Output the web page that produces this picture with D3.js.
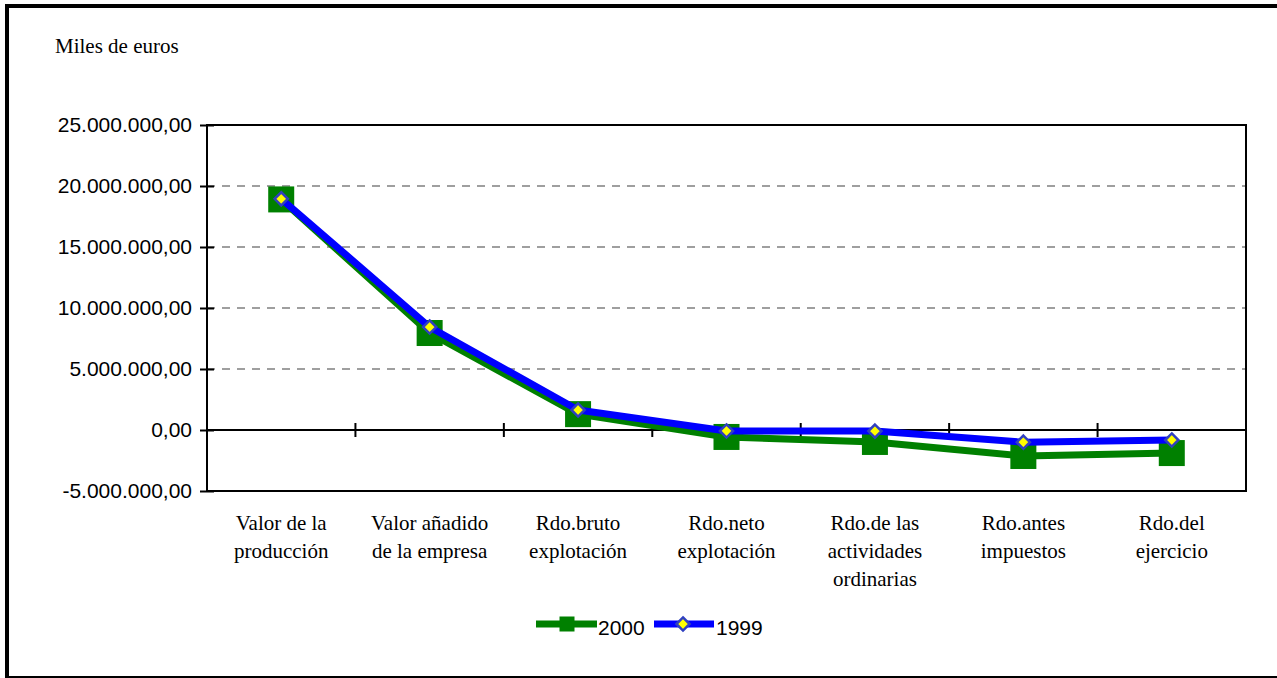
<!DOCTYPE html>
<html>
<head>
<meta charset="utf-8">
<script src="https://cdn.jsdelivr.net/npm/d3@7"></script>
<style>
  body { margin: 0; background: #fff; }
  svg { display: block; }
</style>
</head>
<body>
<div id="chart"></div>
<script>
// Data (miles de euros)
var categories = [
	["Valor de la", "producción"],
	["Valor añadido", "de la empresa"],
	["Rdo.bruto", "explotación"],
	["Rdo.neto", "explotación"],
	["Rdo.de las", "actividades", "ordinarias"],
	["Rdo.antes", "impuestos"],
	["Rdo.del", "ejercicio"]
];
var values2000 = [18900000, 7950000, 1300000, -570000, -980000, -2130000, -1890000];
var values1999 = [18950000, 8440000, 1640000, -80000, -90000, -1000000, -820000];
var yTicks = [-5000000, 0, 5000000, 10000000, 15000000, 20000000, 25000000];
var seriesNames = ["2000", "1999"];

function createChart(){
	var W = 1277, H = 678;
	var margin = {left: 207, right: 31, top: 125, bottom: 187};
	var width = W - margin.left - margin.right;
	var height = H - margin.top - margin.bottom;

	var svg = d3.select("#chart")
				.append("svg")
				.attr("width", W)
				.attr("height", H);

	// outer frame (left, top, bottom only, like the original)
	svg.append("line").attr("x1", 7).attr("x2", 7).attr("y1", 4).attr("y2", H)
		.attr("stroke", "#000").attr("stroke-width", 4);
	svg.append("line").attr("x1", 5).attr("x2", W).attr("y1", 6).attr("y2", 6)
		.attr("stroke", "#000").attr("stroke-width", 4);
	svg.append("line").attr("x1", 5).attr("x2", W).attr("y1", 677).attr("y2", 677)
		.attr("stroke", "#000").attr("stroke-width", 2);

	svg.append("text")
		.attr("x", 55).attr("y", 53)
		.attr("font-family", "'Liberation Serif', 'Times New Roman', serif")
		.attr("font-size", "21px")
		.text("Miles de euros");

	var g = svg.append("g")
				.attr("transform", "translate(" + margin.left + "," + margin.top + ")");

	// scales
	var x = d3.scaleBand().domain(d3.range(categories.length)).range([0, width]);
	var y = d3.scaleLinear().domain([-5000000, 25000000]).range([height, 0]);
	var cx = function(i){ return x(i) + x.bandwidth() / 2; };

	var fmt = d3.formatLocale({decimal: ",", thousands: ".", grouping: [3], currency: ["", "€"], minus: "-"}).format(",.2f");

	// gridlines (dashed) - skip top and bottom
	g.selectAll(".grid")
		.data(yTicks.filter(function(d){ return d > -5000000 && d < 25000000 && d !== 0; }))
		.enter().append("line")
		.attr("class", "grid")
		.attr("x1", 0).attr("x2", width)
		.attr("y1", function(d){ return y(d); })
		.attr("y2", function(d){ return y(d); })
		.attr("stroke", "#808080")
		.attr("stroke-width", 1.5)
		.attr("stroke-dasharray", "8,7");

	// plot frame
	g.append("rect")
		.attr("x", 0).attr("y", 0).attr("width", width).attr("height", height)
		.attr("fill", "none").attr("stroke", "#000").attr("stroke-width", 2);

	// y axis
	var yAxis = d3.axisLeft(y).tickValues(yTicks).tickFormat(fmt).tickSizeOuter(0);
	var ya = g.append("g").call(yAxis);
	ya.select(".domain").remove();
	ya.selectAll(".tick line").attr("x1", -7).attr("x2", 7).attr("stroke", "#000").attr("stroke-width", 2);
	ya.selectAll(".tick text")
		.attr("x", -15)
		.attr("font-family", "'Liberation Sans', Arial, sans-serif")
		.attr("font-size", "21px")
		.attr("fill", "#000");

	// x axis at zero
	var xTickPos = d3.range(categories.length + 1).map(function(i){ return i * x.step(); });
	var xa = g.append("g").attr("transform", "translate(0," + y(0) + ")");
	xa.append("line").attr("x1", 0).attr("x2", width).attr("stroke", "#000").attr("stroke-width", 2);
	xa.selectAll(".xtick").data(xTickPos).enter().append("line")
		.attr("x1", function(d){ return d; }).attr("x2", function(d){ return d; })
		.attr("y1", -7).attr("y2", 7)
		.attr("stroke", "#000").attr("stroke-width", 2);

	// category labels below plot
	var labels = g.selectAll(".cat").data(categories).enter().append("text")
		.attr("class", "cat")
		.attr("text-anchor", "middle")
		.attr("font-family", "'Liberation Serif', 'Times New Roman', serif")
		.attr("font-size", "21px")
		.attr("fill", "#000")
		.attr("transform", function(d, i){ return "translate(" + cx(i) + "," + (height + 39) + ")"; });
	labels.selectAll("tspan").data(function(d){ return d; }).enter().append("tspan")
		.attr("x", 0)
		.attr("y", function(d, j){ return j * 28; })
		.text(function(d){ return d; });

	// lines
	var line = d3.line()
				.x(function(d, i){ return cx(i); })
				.y(function(d){ return y(d); });

	g.append("path").datum(values2000)
		.attr("d", line).attr("fill", "none")
		.attr("stroke", "#008000").attr("stroke-width", 7).attr("stroke-linejoin", "round");
	g.selectAll(".sq").data(values2000).enter().append("rect")
		.attr("x", function(d, i){ return cx(i) - 13; })
		.attr("y", function(d){ return y(d) - 13; })
		.attr("width", 26).attr("height", 26)
		.attr("fill", "#008000");

	g.append("path").datum(values1999)
		.attr("d", line).attr("fill", "none")
		.attr("stroke", "#0000ff").attr("stroke-width", 7).attr("stroke-linejoin", "round");
	var diamond = d3.symbol().type(d3.symbolDiamond2).size(110);
	g.selectAll(".dm").data(values1999).enter().append("path")
		.attr("d", diamond)
		.attr("transform", function(d, i){ return "translate(" + cx(i) + "," + y(d) + ")"; })
		.attr("fill", "#ffff00").attr("stroke", "#3040c0").attr("stroke-width", 2.5);

	// legend
	var legend = svg.append("g");
	legend.append("line").attr("x1", 536).attr("x2", 597).attr("y1", 624).attr("y2", 624)
		.attr("stroke", "#008000").attr("stroke-width", 7);
	legend.append("rect").attr("x", 559.5).attr("y", 616.5).attr("width", 15).attr("height", 15)
		.attr("fill", "#008000");
	legend.append("text").attr("x", 598).attr("y", 635)
		.attr("font-family", "'Liberation Sans', Arial, sans-serif").attr("font-size", "21px")
		.text(seriesNames[0]);
	legend.append("line").attr("x1", 654).attr("x2", 714).attr("y1", 624).attr("y2", 624)
		.attr("stroke", "#0000ff").attr("stroke-width", 7);
	legend.append("path").attr("d", diamond).attr("transform", "translate(683,624)")
		.attr("fill", "#ffff00").attr("stroke", "#3040c0").attr("stroke-width", 2.5);
	legend.append("text").attr("x", 716).attr("y", 635)
		.attr("font-family", "'Liberation Sans', Arial, sans-serif").attr("font-size", "21px")
		.text(seriesNames[1]);
}
createChart();
</script>
</body>
</html>
